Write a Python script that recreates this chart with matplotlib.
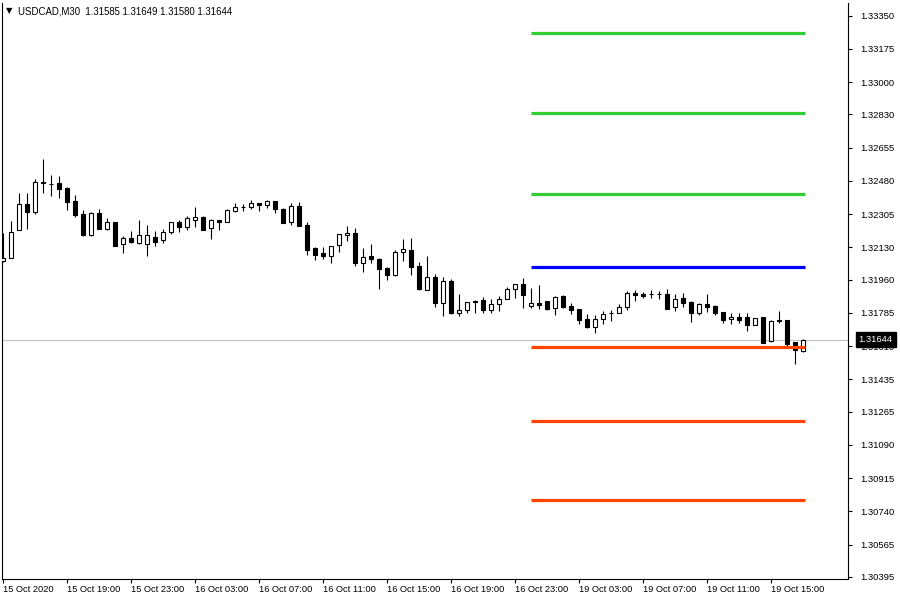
import matplotlib
matplotlib.use("Agg")
import matplotlib.pyplot as plt
from matplotlib.transforms import blended_transform_factory

plt.rcParams['font.family'] = ['Liberation Sans', 'DejaVu Sans']

# USDCAD M30, one candle per 30 minutes, 15 Oct 15:00 -> 19 Oct 17:00
opens = [1.32058, 1.32074, 1.32221, 1.32358, 1.32316, 1.32474, 1.32463, 1.32469, 1.32442, 1.32374,
         1.32306, 1.32195, 1.32311, 1.32227, 1.32263, 1.32148, 1.32179, 1.32153, 1.32148, 1.32184,
         1.32169, 1.32211, 1.32263, 1.32237, 1.32274, 1.32290, 1.32232, 1.32274, 1.32263, 1.32321,
         1.32342, 1.32342, 1.32363, 1.32353, 1.32374, 1.32332, 1.32263, 1.32348, 1.32248, 1.32127,
         1.32100, 1.32084, 1.32142, 1.32195, 1.32206, 1.32048, 1.32084, 1.32069, 1.32021, 1.31984,
         1.32106, 1.32116, 1.32032, 1.31906, 1.31974, 1.31837, 1.31953, 1.31784, 1.31800, 1.31848,
         1.31853, 1.31800, 1.31832, 1.31858, 1.31911, 1.31937, 1.31821, 1.31837, 1.31848, 1.31811,
         1.31874, 1.31821, 1.31806, 1.31753, 1.31711, 1.31753, 1.31784, 1.31784, 1.31816, 1.31890,
         1.31884, 1.31884, 1.31884, 1.31884, 1.31816, 1.31863, 1.31842, 1.31784, 1.31832, 1.31821,
         1.31790, 1.31753, 1.31763, 1.31763, 1.31721, 1.31763, 1.31637, 1.31748, 1.31748, 1.31632,
         1.31585]
highs = [1.32206, 1.32269, 1.32416, 1.32416, 1.32490, 1.32595, 1.32511, 1.32506, 1.32448, 1.32406,
         1.32327, 1.32316, 1.32332, 1.32284, 1.32263, 1.32190, 1.32216, 1.32274, 1.32248, 1.32216,
         1.32227, 1.32263, 1.32274, 1.32295, 1.32342, 1.32295, 1.32279, 1.32274, 1.32332, 1.32363,
         1.32358, 1.32379, 1.32363, 1.32379, 1.32374, 1.32337, 1.32363, 1.32369, 1.32263, 1.32132,
         1.32132, 1.32137, 1.32200, 1.32242, 1.32232, 1.32127, 1.32148, 1.32074, 1.32027, 1.32116,
         1.32174, 1.32179, 1.32053, 1.32084, 1.31990, 1.31974, 1.31963, 1.31884, 1.31842, 1.31853,
         1.31869, 1.31858, 1.31874, 1.31921, 1.31937, 1.31969, 1.31916, 1.31932, 1.31848, 1.31874,
         1.31879, 1.31837, 1.31806, 1.31779, 1.31774, 1.31795, 1.31800, 1.31832, 1.31900, 1.31906,
         1.31895, 1.31906, 1.31900, 1.31911, 1.31884, 1.31890, 1.31848, 1.31837, 1.31884, 1.31827,
         1.31790, 1.31784, 1.31784, 1.31784, 1.31758, 1.31763, 1.31748, 1.31795, 1.31748, 1.31632,
         1.31649]
lows = [1.32053, 1.32074, 1.32221, 1.32227, 1.32306, 1.32416, 1.32400, 1.32390, 1.32327, 1.32290,
        1.32190, 1.32190, 1.32227, 1.32221, 1.32137, 1.32100, 1.32153, 1.32148, 1.32084, 1.32137,
        1.32153, 1.32200, 1.32211, 1.32221, 1.32237, 1.32221, 1.32174, 1.32221, 1.32263, 1.32316,
        1.32321, 1.32332, 1.32321, 1.32337, 1.32311, 1.32258, 1.32248, 1.32242, 1.32090, 1.32063,
        1.32069, 1.32048, 1.32106, 1.32163, 1.32032, 1.32000, 1.32048, 1.31911, 1.31958, 1.31979,
        1.32058, 1.31984, 1.31906, 1.31906, 1.31816, 1.31769, 1.31779, 1.31769, 1.31784, 1.31784,
        1.31784, 1.31784, 1.31795, 1.31858, 1.31863, 1.31811, 1.31811, 1.31806, 1.31800, 1.31774,
        1.31811, 1.31779, 1.31727, 1.31706, 1.31679, 1.31727, 1.31742, 1.31784, 1.31800, 1.31848,
        1.31863, 1.31863, 1.31858, 1.31806, 1.31795, 1.31816, 1.31737, 1.31774, 1.31790, 1.31774,
        1.31732, 1.31727, 1.31732, 1.31690, 1.31721, 1.31627, 1.31632, 1.31732, 1.31611, 1.31516,
        1.31580]
closes = [1.32074, 1.32211, 1.32358, 1.32316, 1.32474, 1.32469, 1.32463, 1.32437, 1.32369, 1.32300,
          1.32195, 1.32311, 1.32227, 1.32263, 1.32137, 1.32179, 1.32158, 1.32195, 1.32195, 1.32158,
          1.32211, 1.32263, 1.32237, 1.32284, 1.32290, 1.32221, 1.32274, 1.32263, 1.32327, 1.32342,
          1.32342, 1.32363, 1.32353, 1.32374, 1.32332, 1.32258, 1.32348, 1.32242, 1.32116, 1.32090,
          1.32084, 1.32137, 1.32200, 1.32206, 1.32048, 1.32079, 1.32069, 1.32016, 1.31984, 1.32106,
          1.32121, 1.32027, 1.31911, 1.31974, 1.31837, 1.31953, 1.31784, 1.31800, 1.31842, 1.31842,
          1.31800, 1.31832, 1.31858, 1.31911, 1.31937, 1.31879, 1.31837, 1.31827, 1.31806, 1.31869,
          1.31816, 1.31800, 1.31748, 1.31711, 1.31753, 1.31779, 1.31784, 1.31816, 1.31890, 1.31879,
          1.31874, 1.31884, 1.31884, 1.31806, 1.31858, 1.31837, 1.31784, 1.31832, 1.31816, 1.31784,
          1.31748, 1.31763, 1.31748, 1.31721, 1.31758, 1.31627, 1.31742, 1.31742, 1.31621, 1.31590,
          1.31644]

# labels every 8 bars (4 hours)
time_labels = ["15 Oct 2020", "15 Oct 19:00", "15 Oct 23:00", "16 Oct 03:00", "16 Oct 07:00",
               "16 Oct 11:00", "16 Oct 15:00", "16 Oct 19:00", "16 Oct 23:00", "19 Oct 03:00",
               "19 Oct 07:00", "19 Oct 11:00", "19 Oct 15:00"]
price_ticks = [1.33350, 1.33175, 1.33000, 1.32830, 1.32655, 1.32480, 1.32305, 1.32130, 1.31960,
               1.31785, 1.31610, 1.31435, 1.31265, 1.31090, 1.30915, 1.30740, 1.30565, 1.30395]

# pivot levels drawn from 19 Oct 00:00
green_levels = [1.33258, 1.32837, 1.32411]
blue_levels = [1.32027]
red_levels = [1.31605, 1.31216, 1.30800]
level_from = 66
level_to = 100.25

last_price = 1.31644
title = "USDCAD,M30  1.31585 1.31649 1.31580 1.31644"


fig = plt.figure(figsize=(9, 6), dpi=100)
ax = fig.add_axes([2/900, 21/600, 846/900, 576/600])

n = len(opens)
xs = list(range(n))

# grey bid line goes under the candles
ax.axhline(last_price, color='#c0c0c0', lw=0.8, zorder=1)

ax.vlines(xs, lows, highs, color='black', lw=0.8, zorder=2)
bottoms = [min(o, c) for o, c in zip(opens, closes)]
heights = [abs(c - o) for o, c in zip(opens, closes)]
faces = ['white' if c >= o else 'black' for o, c in zip(opens, closes)]
ax.bar(xs, heights, width=0.55, bottom=bottoms, color=faces,
       edgecolor='black', linewidth=0.8, zorder=3)

for lv in green_levels:
    ax.hlines(lv, level_from, level_to, color='#32cd32', lw=2.3, zorder=4)
for lv in blue_levels:
    ax.hlines(lv, level_from, level_to, color='#0000ff', lw=2.3, zorder=4)
for lv in red_levels:
    ax.hlines(lv, level_from, level_to, color='#ff4500', lw=2.3, zorder=4)

ax.set_xlim(-0.125, 105.625)
ax.set_ylim(1.30384, 1.33416)

ax.set_xticks(list(range(0, n, 8)))
ax.set_xticklabels(time_labels, fontsize=6.7, ha='left')
ax.yaxis.tick_right()
ax.set_yticks(price_ticks)
ax.set_yticklabels(["%.5f" % p for p in price_ticks], fontsize=6.8)
ax.tick_params(axis='x', direction='out', length=3, width=0.8, pad=1)
ax.tick_params(axis='y', direction='out', length=3, width=0.8, pad=5.5)
for s in ax.spines.values():
    s.set_linewidth(0.8)
ax.spines['top'].set_visible(False)

# current price box on the axis
tr = blended_transform_factory(ax.transAxes, ax.transData)
ax.text(1.0125, last_price, "%.5f" % last_price, transform=tr, fontsize=6.8,
        color='white', va='center', ha='left', clip_on=False, zorder=10,
        bbox=dict(boxstyle='square,pad=0.3', fc='black', ec='black'))

fig.text(6/900, 1 - 11/600, "\u25bc", fontsize=6, va='center', family='DejaVu Sans')
fig.text(18/900, 1 - 11/600, title, fontsize=6.9, va='center')

fig.savefig("out.png", dpi=100)
